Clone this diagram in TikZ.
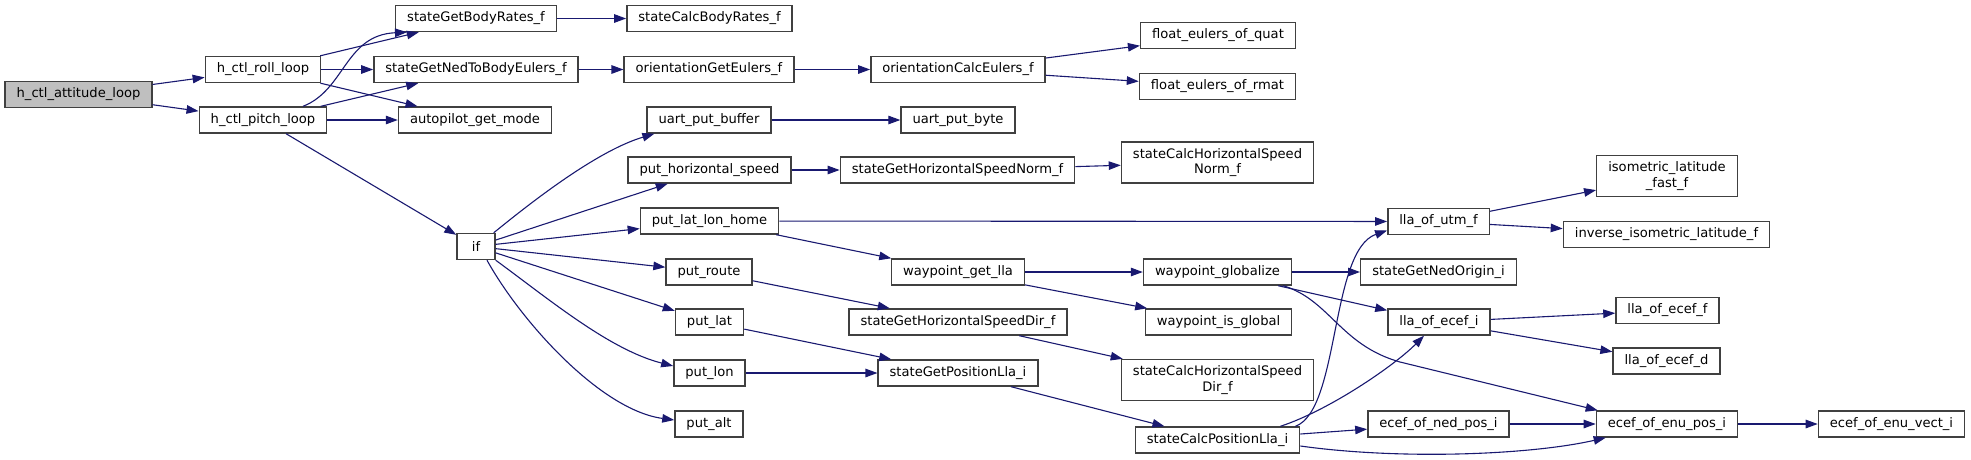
\documentclass[tikz,border=0pt]{standalone}
\usepackage{fontspec}
\setmainfont{DejaVu Sans}
\usepackage{tikz}
\usetikzlibrary{arrows.meta}
\definecolor{edgeblue}{HTML}{191970}
\definecolor{boxline}{HTML}{404040}
\definecolor{rootfill}{HTML}{BFBFBF}

\begin{document}
\begin{tikzpicture}[
    x = 1pt, y = -1pt,
    fn/.style = {rectangle, draw=boxline, line width=1.4pt, fill=white,
                 minimum height=26pt, inner xsep=11.5pt, inner ysep=2pt,
                 align=center, font=\fontsize{13.1}{15.5}\selectfont},
    root/.style = {fn, fill=rootfill},
    twoline/.style = {minimum height=41pt},
    call/.style = {draw=edgeblue, line width=1.1pt, ->},
    >={Triangle[length=12pt, width=8.5pt]}
]
\useasboundingbox (0,0) rectangle (1971,459);

% --- Root and loop callers ---
\node[root] (attitude) at (78.5,94.5) {h\_ctl\_attitude\_loop};
\node[fn] (rollloop) at (263,69.5) {h\_ctl\_roll\_loop};
\node[fn] (pitchloop) at (263,120) {h\_ctl\_pitch\_loop};

% --- Second column ---
\node[fn] (getbodyrates) at (476,18.5) {stateGetBodyRates\_f};
\node[fn] (getnedeulers) at (476,69.5) {stateGetNedToBodyEulers\_f};
\node[fn] (apmode) at (475,120) {autopilot\_get\_mode};
\node[fn, minimum width=38pt] (ifnode) at (476,246.5) {if};

% --- Third column ---
\node[fn] (calcbodyrates) at (709.5,18.5) {stateCalcBodyRates\_f};
\node[fn] (orientget) at (709,69.5) {orientationGetEulers\_f};
\node[fn] (uartbuf) at (709,120) {uart\_put\_buffer};
\node[fn] (puthspeed) at (709.5,170) {put\_horizontal\_speed};
\node[fn] (puthome) at (709.5,221) {put\_lat\_lon\_home};
\node[fn] (putroute) at (709,272) {put\_route};
\node[fn] (putlat) at (709.5,322) {put\_lat};
\node[fn] (putlon) at (709.5,373) {put\_lon};
\node[fn] (putalt) at (709,424) {put\_alt};

% --- Fourth column ---
\node[fn] (orientcalc) at (958,69.5) {orientationCalcEulers\_f};
\node[fn] (uartbyte) at (958,120) {uart\_put\_byte};
\node[fn] (gethspeednorm) at (957.5,170) {stateGetHorizontalSpeedNorm\_f};
\node[fn] (wpgetlla) at (958,272) {waypoint\_get\_lla};
\node[fn] (gethspeeddir) at (958,322) {stateGetHorizontalSpeedDir\_f};
\node[fn] (getposlla) at (958,373) {stateGetPositionLla\_i};

% --- Fifth column ---
\node[fn] (eulquat) at (1218,35.5) {float\_eulers\_of\_quat};
\node[fn] (eulrmat) at (1217.5,86.5) {float\_eulers\_of\_rmat};
\node[fn, twoline] (calchspeednorm) at (1217.5,162.5) {stateCalcHorizontalSpeed\\Norm\_f};
\node[fn] (wpglobalize) at (1217.5,272) {waypoint\_globalize};
\node[fn] (wpisglobal) at (1218.5,322) {waypoint\_is\_global};
\node[fn, twoline] (calchspeeddir) at (1217.5,380) {stateCalcHorizontalSpeed\\Dir\_f};
\node[fn] (calcposlla) at (1217.5,440) {stateCalcPositionLla\_i};

% --- Sixth column ---
\node[fn] (llautm) at (1438.5,221.5) {lla\_of\_utm\_f};
\node[fn] (nedorigin) at (1438.5,272) {stateGetNedOrigin\_i};
\node[fn] (llaecefi) at (1439,322) {lla\_of\_ecef\_i};
\node[fn] (ecefned) at (1438.5,424) {ecef\_of\_ned\_pos\_i};

% --- Last columns ---
\node[fn, twoline] (isolatfast) at (1667,176) {isometric\_latitude\\\_fast\_f};
\node[fn] (invisolat) at (1666.5,234.5) {inverse\_isometric\_latitude\_f};
\node[fn] (llaeceff) at (1667.5,310.5) {lla\_of\_ecef\_f};
\node[fn] (llaecefd) at (1666.5,361) {lla\_of\_ecef\_d};
\node[fn] (ecefenu) at (1667,424) {ecef\_of\_enu\_pos\_i};
\node[fn] (ecefenuvect) at (1891.5,424) {ecef\_of\_enu\_vect\_i};

% --- Calls from the attitude loops ---
\draw[call] (attitude) -- (rollloop);
\draw[call] (attitude) -- (pitchloop);
\draw[call] (rollloop) -- (getbodyrates);
\draw[call] (rollloop) -- (getnedeulers);
\draw[call] (rollloop) -- (apmode);
\draw[call] ([xshift=40pt]pitchloop.north) .. controls (345,90) and (345,35) .. ([xshift=12pt]getbodyrates.south west);
\draw[call] (pitchloop) -- (getnedeulers);
\draw[call] (pitchloop) -- (apmode);
\draw[call] (pitchloop) -- (ifnode);

% --- Attitude state chain ---
\draw[call] (getbodyrates) -- (calcbodyrates);
\draw[call] (getnedeulers) -- (orientget);
\draw[call] (orientget) -- (orientcalc);
\draw[call] (orientcalc) -- (eulquat);
\draw[call] (orientcalc) -- (eulrmat);

% --- Calls from if ---
\draw[call] ([xshift=-2pt]ifnode.north east) .. controls (540,195) and (600,150) .. ([xshift=8pt]uartbuf.south west);
\draw[call] (ifnode) -- (puthspeed);
\draw[call] (ifnode) -- (puthome);
\draw[call] (ifnode) -- (putroute);
\draw[call] (ifnode) -- (putlat);
\draw[call] (ifnode.south east) .. controls (550,300) and (610,350) .. ([yshift=7pt]putlon.west);
\draw[call] ([xshift=11pt]ifnode.south) .. controls (520,320) and (600,410) .. ([yshift=4pt]putalt.west);

% --- Telemetry helpers ---
\draw[call] (uartbuf) -- (uartbyte);
\draw[call] (puthspeed) -- (gethspeednorm);
\draw[call] (gethspeednorm) -- (calchspeednorm);
\draw[call] (puthome) -- (llautm);
\draw[call] (puthome) -- (wpgetlla);
\draw[call] (putroute) -- (gethspeeddir);
\draw[call] (putlat) -- (getposlla);
\draw[call] (putlon) -- (getposlla);
\draw[call] (wpgetlla) -- (wpglobalize);
\draw[call] (wpgetlla) -- (wpisglobal);
\draw[call] (gethspeeddir) -- (calchspeeddir);
\draw[call] (getposlla) -- (calcposlla);

% --- Geodetic conversions ---
\draw[call] (wpglobalize) -- (nedorigin);
\draw[call] (wpglobalize) -- (llaecefi);
\draw[call] ([xshift=-9pt]wpglobalize.south east) .. controls (1330,300) and (1340,345) .. (1400,362) -- ([xshift=2pt]ecefenu.north west);
\draw[call] ([xshift=-5pt]calcposlla.north east) .. controls (1340,410) and (1330,250) .. ([yshift=-9pt]llautm.west);
\draw[call] ([xshift=-20pt]calcposlla.north east) .. controls (1330,410) and (1395,365) .. ([xshift=-15pt]llaecefi.south);
\draw[call] (calcposlla) -- (ecefned);
\draw[call] ([yshift=-6pt]calcposlla.east) .. controls (1400,460) and (1530,455) .. ([xshift=10pt]ecefenu.south west);
\draw[call] (llautm) -- (isolatfast);
\draw[call] (llautm) -- (invisolat);
\draw[call] (llaecefi) -- (llaeceff);
\draw[call] (llaecefi) -- (llaecefd);
\draw[call] (ecefned) -- (ecefenu);
\draw[call] (ecefenu) -- (ecefenuvect);

\end{tikzpicture}
\end{document}
